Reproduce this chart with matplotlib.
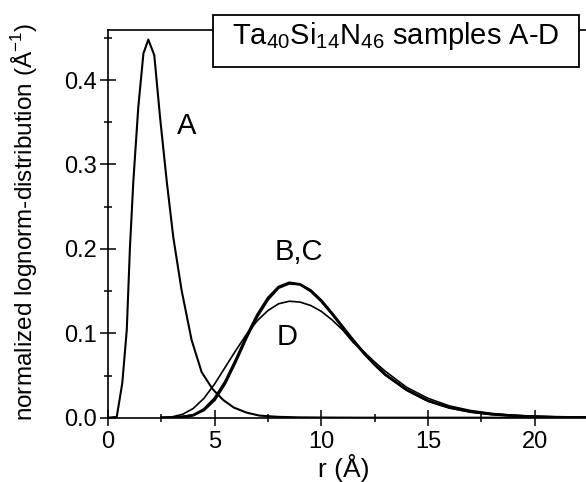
import numpy as np
from matplotlib import pyplot as plt
from matplotlib.ticker import MultipleLocator
from matplotlib.patches import Rectangle

plt.rcParams['font.family'] = ['Liberation Sans', 'DejaVu Sans']
plt.rcParams['mathtext.fontset'] = 'custom'
plt.rcParams['mathtext.rm'] = 'Liberation Sans'

# sample A
r_a = [0.0, 0.41, 0.67, 0.88, 1.03, 1.19, 1.42, 1.66, 1.89, 2.17, 2.44, 2.75, 3.06,
       3.45, 3.92, 4.39, 4.9, 5.4, 5.9, 6.5, 7.1, 8.0, 9.0, 10.0, 12.0, 22.5]
y_a = [0.0, 0.001, 0.041, 0.104, 0.2025, 0.281, 0.368, 0.4315, 0.448, 0.4295, 0.356, 0.281, 0.214,
       0.151, 0.092, 0.054, 0.034, 0.021, 0.012, 0.006, 0.0025, 0.001, 0.0004, 0.0002, 0.0, 0.0]

# samples B, C, D
r_bcd = [2.5, 3.0, 3.5, 4.0, 4.5, 5.0, 5.5, 6.0, 6.5, 7.0, 7.5, 8.0, 8.5, 9.0, 9.5, 10.0,
         10.5, 11.0, 11.5, 12.0, 12.5, 13.0, 14.0, 15.0, 16.0, 17.0, 18.0, 19.0, 20.0, 21.0, 22.5]
y_b = [0.0, 0.0, 0.001, 0.003, 0.010, 0.023, 0.043, 0.069, 0.097, 0.122, 0.142, 0.155, 0.160, 0.158,
       0.150, 0.138, 0.123, 0.107, 0.091, 0.076, 0.063, 0.051, 0.033, 0.020, 0.012, 0.0072, 0.0042,
       0.0024, 0.0013, 0.0007, 0.0003]
y_c = [0.0, 0.0, 0.001, 0.003, 0.009, 0.021, 0.041, 0.067, 0.095, 0.120, 0.140, 0.154, 0.159, 0.158,
       0.151, 0.139, 0.124, 0.108, 0.092, 0.077, 0.063, 0.051, 0.033, 0.020, 0.012, 0.0070, 0.0040,
       0.0023, 0.0012, 0.0006, 0.0003]
y_d = [0.0, 0.001, 0.004, 0.011, 0.023, 0.040, 0.060, 0.080, 0.099, 0.115, 0.127, 0.135, 0.138, 0.137,
       0.133, 0.126, 0.116, 0.104, 0.089, 0.078, 0.066, 0.055, 0.036, 0.023, 0.014, 0.0085, 0.005,
       0.0029, 0.0016, 0.0009, 0.0004]

W, H = 586, 482
fig = plt.figure(figsize=(W/100, H/100), dpi=100)
ax = fig.add_axes([108/W, 1-417.7/H, 1-108/W, (417.7-30)/H])

ax.plot(r_a, y_a, color="black", lw=1.5)
ax.plot(r_bcd, y_b, color="black", lw=1.8)
ax.plot(r_bcd, y_c, color="black", lw=1.8)
ax.plot(r_bcd, y_d, color="black", lw=1.2)

ax.set_xlim(0, 22.41)
ax.set_ylim(0, (417.7-30)/844)
ax.spines["right"].set_visible(False)
for s in ax.spines.values():
    s.set_linewidth(1.2)

ax.xaxis.set_major_locator(MultipleLocator(5))
ax.xaxis.set_minor_locator(MultipleLocator(2.5))
ax.yaxis.set_major_locator(MultipleLocator(0.1))
ax.yaxis.set_minor_locator(MultipleLocator(0.05))
ax.yaxis.set_major_formatter(plt.FormatStrFormatter("%.1f"))
ax.tick_params(which="major", direction="inout", length=11, width=1.1, labelsize=17, pad=2.5)
ax.tick_params(axis="x", which="major", pad=4)
ax.tick_params(which="minor", direction="inout", length=6, width=1.1)

fig.text(344/W, 1-468/H, "r (Å)", fontsize=19, ha="center", va="center")
fig.text(24.5/W, 1-222/H, "normalized lognorm-distribution (Å$^{-1}$)", rotation=90,
         fontsize=17.5, ha="center", va="center")

ax.text(3.7, 0.346, "A", fontsize=21, ha="center", va="center")
ax.text(8.95, 0.196, "B,C", fontsize=21, ha="center", va="center")
ax.text(8.4, 0.096, "D", fontsize=21, ha="center", va="center")

# title box
fig.patches.append(Rectangle((213/W, 1-67/H), 366/W, 52/H, transform=fig.transFigure,
                             fc="white", ec="black", lw=1.3, zorder=5))
fig.text(395.5/W, 1-43.5/H, "Ta$_{40}$Si$_{14}$N$_{46}$ samples A-D", fontsize=21,
         ha="center", va="baseline", zorder=6)

plt.savefig("out.png", dpi=100)
